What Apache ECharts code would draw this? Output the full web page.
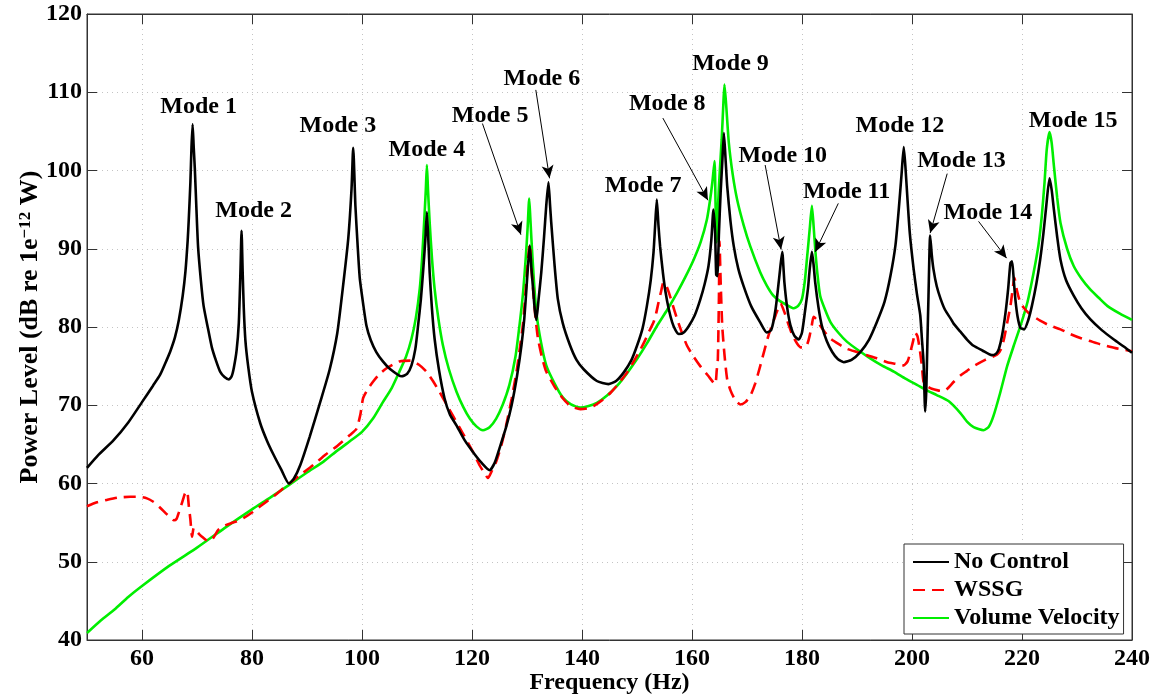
<!DOCTYPE html>
<html>
<head>
<meta charset="utf-8">
<title>Power level</title>
<script src="https://cdn.jsdelivr.net/npm/echarts@6/dist/echarts.min.js"></script>
<style>
  html, body { margin: 0; padding: 0; background: #fff; }
  #chart { width: 1156px; height: 696px; }
</style>
</head>
<body>
<div id="chart"></div>
<script>
// tick values
var xTicks = [60, 80, 100, 120, 140, 160, 180, 200, 220, 240];
var yTicks = [40, 50, 60, 70, 80, 90, 100, 110, 120];

// [frequency (Hz), power level (dB)]
var noControl = [
  [50,62.0],[52,63.6],[54.8,65.5],[57.5,67.8],[60,70.4],[62,72.5],[63.3,73.9],[64.5,75.8],[65.2,77.0],[66,78.7],
  [66.7,80.9],[67.4,84],[67.9,87.1],[68.3,91],[68.5,93.7],[68.8,98.5],[69.0,103],[69.2,105.9],[69.4,103],[69.6,100.3],
  [69.9,95],[70.2,90.2],[70.7,86],[71.2,82.7],[72.0,79.8],[72.7,77.4],[73.5,75.6],[74.2,74.3],[75.0,73.6],[75.8,73.3],
  [76.3,73.7],[76.7,74.8],[77.2,77],[77.6,80.5],[77.9,87.1],[78.1,92.3],[78.3,87.1],[78.5,82.5],[78.8,78.3],[79.3,75],
  [80,71.7],[81.5,67.7],[82.7,65.5],[83.9,63.7],[85.3,61.8],[86.7,60.0],[87.6,60.6],[88.8,62.4],[90.5,66],[92.4,70.4],
  [94.1,74.5],[95.5,79.2],[96.5,84.9],[97.5,91.3],[98.1,97.7],[98.4,102.9],[98.8,95.5],[99.2,90.5],[99.6,86.2],[100.2,83],
  [100.8,80.2],[101.6,78.3],[102.6,76.8],[103.8,75.6],[105,74.7],[107.2,73.7],[108.2,74.0],[109,75.1],[109.7,77.2],[110.2,80.2],
  [110.7,83.5],[111.1,87.0],[111.5,91],[111.8,94.7],[112.1,90.5],[112.3,87.0],[112.7,82.5],[113.2,78.5],[114,74.5],[115,70.9],
  [116,68.8],[117.2,67.4],[118.6,65.6],[120.2,64.0],[121.8,62.6],[123.2,61.7],[124.1,62.6],[125,64.5],[126.2,67.2],[127.2,70.0],
  [128.2,73.8],[129,77.7],[129.5,81],[129.9,84.9],[130.2,88],[130.5,90.4],[130.8,87.5],[131.1,84.9],[131.4,82.3],[131.7,80.9],
  [132.1,83.5],[132.6,87.0],[133.1,91.5],[133.5,95.5],[133.9,98.5],[134.2,95.5],[134.4,93.4],[135,88],[135.6,83.6],[136.5,80.5],
  [137.8,77.7],[139,75.8],[140.3,74.6],[142.7,73.1],[144.8,72.7],[146.2,73.1],[147.6,74.2],[149,75.8],[150,77.6],[151,79.8],
  [151.8,82.7],[152.5,86],[153,89.5],[153.3,93],[153.6,96.3],[153.9,93],[154.2,90.3],[154.7,87],[155.2,84.4],[155.8,82.2],
  [156.4,80.6],[157,79.6],[157.6,79.1],[158.5,79.3],[159.4,80.1],[160.5,81.5],[161.5,83.5],[162.3,85.5],[163.0,87.8],[163.5,91],
  [163.9,95.0],[164.2,92],[164.4,86.7],[164.6,86.5],[164.9,92],[165.2,97.1],[165.5,101],[165.8,104.8],[166.1,101.5],[166.4,98.0],
  [167,93.5],[167.6,90.3],[168.4,87.5],[169.4,85.2],[170.8,82.6],[172.4,80.6],[173.6,79.3],[174.4,79.6],[175.2,82.3],[175.9,86.6],
  [176.4,89.6],[176.8,85.7],[177.3,82.5],[177.9,80.2],[178.6,78.9],[179.4,78.4],[180,79.3],[180.6,82.3],[181.1,85],[181.4,87.4],
  [181.8,89.6],[182.1,88],[182.4,85.7],[183,82.5],[183.6,80.2],[184.5,78.2],[185.5,76.8],[186.5,75.9],[187.6,75.5],[189,75.8],
  [190.6,76.8],[192.2,78.4],[193.6,80.6],[195,83.2],[196.1,86.6],[197,90.5],[197.6,95.1],[198.1,99.5],[198.5,103.0],[198.8,100.5],
  [199.1,97.2],[199.6,92],[200.3,87.4],[200.9,84.2],[201.5,81.5],[201.8,78.5],[202.1,75.5],[202.4,69.2],[202.6,72],[202.8,78.1],
  [203.0,84],[203.3,91.7],[203.6,89.2],[203.9,87.4],[204.5,85.2],[205.2,83.6],[206,82.2],[207,81.1],[207.6,80.4],[208.8,79.4],
  [210,78.4],[211.2,77.6],[212.8,77],[214.5,76.4],[215.3,76.6],[215.8,77.2],[216.4,79],[217,81.8],[217.5,85],[217.9,88.2],
  [218.2,88.4],[218.5,86],[218.8,83.5],[219.2,81.3],[219.7,79.9],[220.4,79.7],[221.1,80.8],[221.8,82.7],[222.6,85.5],[223.3,88.6],
  [223.9,92],[224.4,95.4],[225.0,99.0],[225.4,97.5],[225.8,95.0],[226.4,91.5],[227,88.6],[228,86],[229.4,84.0],[230.8,82.4],
  [232.4,81.0],[234.5,79.6],[236.7,78.4],[238.5,77.5],[240,76.7]
];

var wssg = [
  [50,57.1],[51.8,57.6],[53.6,57.9],[55.7,58.2],[57.9,58.3],[59.5,58.3],[60.9,58.1],[62.2,57.6],[63.3,56.9],[64.6,56],
  [65.8,55.3],[66.3,55.5],[66.7,56.3],[67.3,57.6],[67.8,58.7],[68.2,59.0],[68.5,57.2],[68.8,55.4],[69.1,53.2],[69.4,54.3],
  [69.7,54.1],[70.3,53.6],[70.9,53.2],[71.6,52.8],[72.4,52.6],[73.1,53.2],[73.9,54.1],[75,54.6],[76.1,54.9],[77.3,55.2],
  [78.5,55.6],[80,56.3],[81.5,57.1],[84,58.4],[86.4,59.8],[88.8,61.1],[91.2,62.4],[93.4,63.7],[95.5,64.8],[97.8,66.2],
  [99.0,67.0],[99.7,68.8],[100.2,70.9],[101,72],[102,73.0],[103.2,74],[104.4,74.7],[105.6,75.2],[106.8,75.6],[108.9,75.7],
  [110.3,75.2],[111.7,74.3],[112.9,73.1],[114.1,71.7],[115.3,70.2],[116.5,68.7],[117.7,67.2],[118.9,65.7],[120.2,64],[121.4,62.3],
  [122.2,61.4],[122.9,60.7],[123.6,61.6],[124.4,62.8],[125.3,64.8],[126.2,67.4],[127.2,70.8],[128.1,74.3],[128.7,77.3],[129.3,80.6],
  [129.8,85],[130.2,88.7],[130.5,90.6],[130.8,87.5],[131.1,84.9],[131.5,81.5],[132.0,78.5],[132.7,76.2],[133.5,74.3],[135,72.4],
  [136.5,70.9],[137.9,69.9],[139.7,69.5],[141,69.6],[142.1,69.9],[143.6,70.6],[145.2,71.6],[146.7,72.8],[148.2,74.2],[149.4,75.6],
  [150.6,77.1],[151.4,78.2],[152.1,79.3],[153,80.6],[153.5,81.8],[153.9,83.1],[154.4,84.6],[154.8,85.7],[155.3,85.3],[155.8,84.4],
  [156.5,82.8],[157.3,81.0],[158.2,79.2],[159.1,77.6],[160.3,76.2],[161.5,75.0],[162.9,73.8],[164.2,72.7],[164.5,74.5],[164.7,75.9],
  [164.9,84],[165.0,91.0],[165.2,86],[165.5,80.1],[165.9,76.5],[166.4,73.3],[167,71.9],[167.6,71.0],[168.2,70.4],[168.8,70.1],
  [169.7,70.4],[170.6,71.2],[171.5,72.8],[172.4,75.0],[173.9,78.9],[175.2,81.5],[176.1,83.0],[176.8,81.9],[177.6,80.2],[178.3,78.9],
  [179.1,77.9],[179.8,77.4],[180.6,77.4],[181,77.9],[181.4,78.9],[181.8,80.3],[182.1,81.3],[182.6,81.0],[183.3,80.2],[184.2,79.3],
  [185.2,78.5],[186.7,77.8],[188.2,77.2],[190,76.8],[191.8,76.4],[193.6,76.0],[195.5,75.5],[197,75.3],[198.5,75.1],[199.2,75.6],
  [199.7,76.8],[200.2,78.2],[200.6,79.3],[201,78.8],[201.4,77.2],[201.8,75],[202.1,73.0],[202.8,72.4],[203.6,72.1],[204.7,71.9],
  [205.8,71.8],[206.7,72.3],[207.6,73.0],[208.8,73.8],[210,74.4],[211.2,75.0],[213.3,75.8],[215.5,76.5],[216.2,77.2],[216.7,78.4],
  [217.3,80.5],[217.9,82.7],[218.3,84.8],[218.6,86.3],[219.1,84.6],[219.7,83.1],[220.4,82.4],[221.2,81.8],[222.2,81.3],[223.3,80.8],
  [225,80.2],[227,79.7],[228.8,79.1],[230.6,78.6],[232.4,78.2],[234.2,77.8],[237,77.3],[240,76.9]
];

var volumeVelocity = [
  [50,40.9],[52.5,42.5],[55,43.9],[57.5,45.5],[60,46.9],[65,49.5],[70,51.8],[75,54.3],[80,56.7],[83.3,58.2],[86.7,59.8],[90,61.4],
  [93,62.8],[95.5,64.2],[97.8,65.4],[100,66.6],[102,68.3],[103.8,70.4],[105.4,72.2],[106.8,74.3],[108,76.2],[109,78.5],
  [109.8,81.2],[110.5,84.9],[110.9,88.5],[111.3,93.4],[111.6,97.5],[111.8,100.7],[112.0,97.5],[112.3,93.4],[112.7,89],[113.2,84.9],
  [113.9,81],[114.7,77.7],[115.8,74.6],[117.2,71.7],[118.4,69.8],[119.6,68.3],[120.8,67.3],[122.0,66.8],[123.2,67.2],[124.4,68.3],
  [125.6,70.1],[126.8,72.6],[127.9,76.2],[128.7,80.6],[129.3,84.5],[129.8,89.1],[130.1,92.5],[130.4,96.4],[130.6,94],[130.8,91.3],
  [131.2,86.5],[131.7,81.9],[132.5,78.2],[133.5,75.1],[135,72.8],[136.5,71.0],[138,70.1],[139.7,69.7],[141.2,69.9],[142.7,70.3],
  [144.5,71.2],[146.4,72.5],[148.2,74.1],[150,75.9],[151.8,77.9],[153.6,80.1],[155.5,82.2],[157.3,84.4],[158.8,86.4],[160.3,88.6],
  [161.6,90.9],[162.7,93.7],[163.3,96.3],[163.7,98.5],[164.1,101.2],[164.3,95],[164.45,90.8],[164.7,95],[165.0,99.3],[165.4,104],
  [165.7,108.5],[165.9,111.0],[166.2,108.5],[166.7,103.5],[167.4,99.5],[168.2,96.3],[169.4,93],[170.6,90.3],[172.4,87.0],[173.6,85.3],
  [174.8,84.0],[176,83.3],[177.3,82.8],[178.5,82.4],[179.3,82.7],[180,83.6],[180.5,85.8],[180.9,88.7],[181.4,92.5],[181.8,95.5],
  [182.1,93],[182.4,90.0],[182.8,86.8],[183.3,84.0],[184.2,82.2],[185.2,80.6],[186.7,79.2],[188.2,78.1],[190.3,77.0],[192.4,76.0],
  [194.5,75.1],[196.7,74.3],[198.8,73.4],[200.9,72.6],[202.7,71.9],[204.5,71.3],[206.7,70.5],[208.8,69.0],[210,67.9],[211.2,67.2],
  [213,66.8],[214,67.3],[214.8,68.6],[216,71.5],[217.3,75.0],[218.5,77.6],[219.7,80.1],[221,83.2],[222.1,86.9],[223,90.5],
  [223.6,94.2],[224.1,98.5],[224.5,102.7],[225.0,104.9],[225.4,103.5],[225.8,100.6],[226.4,96.5],[227.0,93.3],[228.2,90],[229.4,87.8],
  [230.9,86.1],[232.4,84.8],[234,83.7],[235.5,82.7],[237.8,81.7],[240,80.9]
];

// mode labels: [text, frequency, level]
var modeLabels = [
  ['Mode 1', 70.3, 108.2], ['Mode 2', 80.3, 94.9], ['Mode 3', 95.6, 105.7], ['Mode 4', 111.8, 102.6],
  ['Mode 5', 123.3, 107.0], ['Mode 6', 132.7, 111.7], ['Mode 7', 151.1, 98.1], ['Mode 8', 155.5, 108.5],
  ['Mode 9', 167.0, 113.6], ['Mode 10', 176.5, 101.9], ['Mode 11', 188.1, 97.3], ['Mode 12', 197.8, 105.7],
  ['Mode 13', 209.0, 101.3], ['Mode 14', 213.8, 94.6], ['Mode 15', 229.3, 106.3]
];

// arrows: [fromF, fromV, toF, toV]
var modeArrows = [
  [121.9, 106.0, 128.9, 91.8],
  [131.6, 110.3, 134.1, 99.0],
  [154.7, 106.7, 162.9, 96.2],
  [173.3, 100.7, 176.2, 89.9],
  [186.6, 95.8, 182.4, 89.6],
  [206.4, 99.6, 203.3, 92.0],
  [212.1, 93.5, 217.2, 88.8]
];

var FONT = "'Liberation Serif', 'Times New Roman', serif";
var boldText = { fontFamily: FONT, fontWeight: 'bold', fontSize: 24, color: '#000' };

var myChart = echarts.init(document.getElementById('chart'));

var option = {
  animation: false,
  backgroundColor: '#fff',
  grid: {
    left: 87, right: 24, top: 14, bottom: 56,
    outerBoundsMode: 'none',
    show: true, borderColor: '#333', borderWidth: 1
  },
  legend: {
    data: ['No Control', 'WSSG', 'Volume Velocity'],
    orient: 'vertical',
    left: 904, top: 544,
    padding: [6, 4, 4, 8],
    itemGap: 4,
    itemWidth: 36, itemHeight: 14,
    backgroundColor: '#fff',
    borderColor: '#333', borderWidth: 1, borderRadius: 0,
    itemStyle: { color: 'rgba(0,0,0,0)', borderWidth: 0, opacity: 0 },
    textStyle: boldText
  },
  xAxis: [{
    type: 'value', min: 50, max: 240,
    name: 'Frequency (Hz)', nameLocation: 'middle', nameGap: 31, nameMoveOverlap: false,
    nameTextStyle: boldText,
    axisLine: { show: true, lineStyle: { color: '#333', width: 1 } },
    axisTick: { show: true, inside: true, length: 10, customValues: xTicks, lineStyle: { color: '#333' } },
    axisLabel: { customValues: xTicks, margin: 7, fontFamily: FONT, fontWeight: 'bold', fontSize: 24, color: '#000' },
    splitLine: { show: true, lineStyle: { color: '#c4c4c4', width: 1, type: [1, 4] } }
  }, {
    type: 'value', min: 50, max: 240, position: 'top',
    axisLine: { show: true, lineStyle: { color: '#333' } },
    axisTick: { show: true, inside: true, length: 10, customValues: xTicks, lineStyle: { color: '#333' } },
    axisLabel: { show: false },
    splitLine: { show: false }
  }],
  yAxis: [{
    type: 'value', min: 40, max: 120, interval: 10,
    name: '{t|Power Level (dB re 1e}{s|\u221212}{t| W)}',
    nameLocation: 'middle', nameGap: 44, nameRotate: 90, nameMoveOverlap: false,
    nameTextStyle: {
      rich: {
        t: { fontFamily: FONT, fontWeight: 'bold', fontSize: 26, color: '#000' },
        s: { fontFamily: FONT, fontWeight: 'bold', fontSize: 17, color: '#000', verticalAlign: 'top' }
      }
    },
    axisLine: { show: true, lineStyle: { color: '#333', width: 1 } },
    axisTick: { show: true, inside: true, length: 10, lineStyle: { color: '#333' } },
    axisLabel: { margin: 5, fontFamily: FONT, fontWeight: 'bold', fontSize: 24, color: '#000' },
    splitLine: { show: true, lineStyle: { color: '#c4c4c4', width: 1, type: [1, 4] } }
  }, {
    type: 'value', min: 40, max: 120, interval: 10, position: 'right',
    axisLine: { show: true, lineStyle: { color: '#333' } },
    axisTick: { show: true, inside: true, length: 10, lineStyle: { color: '#333' } },
    axisLabel: { show: false },
    splitLine: { show: false }
  }],
  series: [
    {
      name: 'Volume Velocity', type: 'line', data: volumeVelocity,
      symbol: 'none', smooth: 0.2,
      lineStyle: { color: '#00ee00', width: 2.6 }, itemStyle: { color: '#00ee00' }
    },
    {
      name: 'WSSG', type: 'line', data: wssg,
      symbol: 'none', smooth: 0.2,
      lineStyle: { color: '#ff0000', width: 2.6, type: [12, 7] }, itemStyle: { color: '#ff0000' }
    },
    {
      name: 'No Control', type: 'line', data: noControl,
      symbol: 'none', smooth: 0.2,
      lineStyle: { color: '#000', width: 2.6 }, itemStyle: { color: '#000' }
    },
    {
      name: 'modes', type: 'scatter',
      data: modeLabels.map(function (m) { return [m[1], m[2], m[0]]; }),
      symbolSize: 1, itemStyle: { color: 'rgba(0,0,0,0)', opacity: 1 },
      label: {
        show: true, position: 'inside', opacity: 1,
        formatter: function (p) { return p.value[2]; },
        fontFamily: FONT, fontWeight: 'bold', fontSize: 24, color: '#000'
      },
      silent: true,
      markLine: {
        silent: true, animation: false,
        symbol: ['none', 'arrow'], symbolSize: [9, 13],
        label: { show: false },
        lineStyle: { color: '#000', width: 1, type: 'solid' },
        data: modeArrows.map(function (a) {
          return [{ coord: [a[0], a[1]] }, { coord: [a[2], a[3]] }];
        })
      }
    }
  ]
};

myChart.setOption(option);
</script>
</body>
</html>
